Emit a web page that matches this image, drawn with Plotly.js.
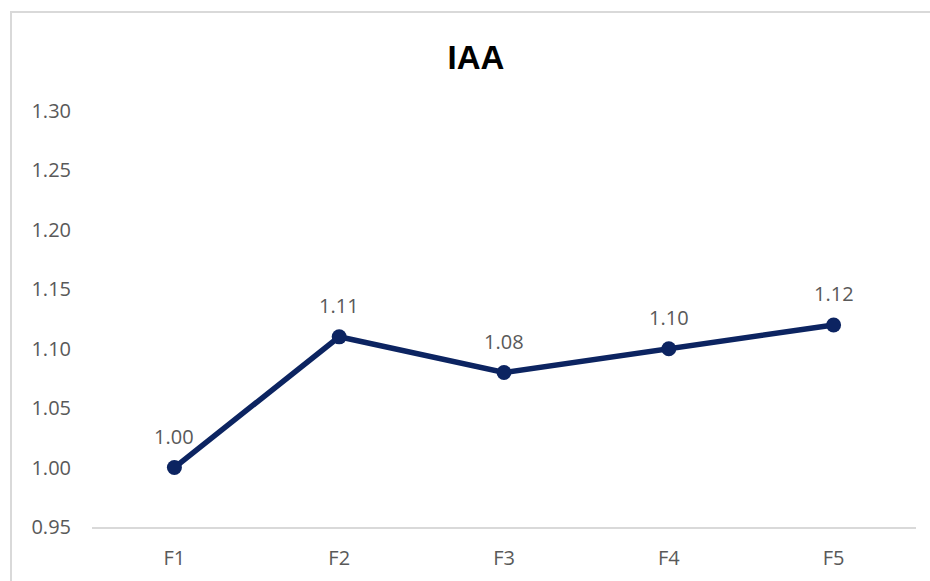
<!DOCTYPE html>
<html><head><meta charset="utf-8">
<script src="https://cdn.plot.ly/plotly-3.0.1.min.js"></script>
<style>body{margin:0;background:#fff}#chart{width:930px;height:581px}</style>
</head><body><div id="chart"></div>
<script>
const categories = ["F1","F2","F3","F4","F5"];
const values = [1.00, 1.11, 1.08, 1.10, 1.12];
const labels = ["1.00","1.11","1.08","1.10","1.12"];
const tickVals = [0.95,1.00,1.05,1.10,1.15,1.20,1.25,1.30];
const tickText = ["0.95","1.00","1.05","1.10","1.15","1.20","1.25","1.30"];

const L=92, R=14, T=111, B=54, W=930, H=581;
const pw=W-L-R, ph=H-T-B;
const px=v=>(v-L)/pw, py=v=>(H-B-v)/ph;
const FONT = 'Open Sans, sans-serif';
const GRAY = '#595959';

const trace = {
  x: categories, y: values, type: 'scatter', mode: 'lines+markers',
  line: {color: '#0c2461', width: 5.5},
  marker: {color: '#0c2461', size: 15},
  cliponaxis: false, hoverinfo: 'none'
};
const annotations = categories.map((c, i) => ({
  x: c, y: values[i], xref: 'x', yref: 'y', text: labels[i], showarrow: false,
  yanchor: 'middle', xanchor: 'center', yshift: 31,
  font: {family: FONT, size: 20, color: GRAY}
}));
const layout = {
  width: W, height: H, margin: {l: L, r: R, t: T, b: B},
  paper_bgcolor: '#fff', plot_bgcolor: '#fff', showlegend: false,
  title: {text: '<b>IAA</b>', x: 476/W, xref: 'container', y: 1-57/H, yref: 'container', yanchor: 'middle',
    font: {family: 'Liberation Sans, Arial, sans-serif', size: 33, color: '#000'}},
  xaxis: {type: 'category', range: [-0.5, 4.5], showgrid: false, zeroline: false,
    showline: true, linecolor: '#d9d9d9', linewidth: 2, ticks: '', ticklabelstandoff: 12,
    tickfont: {family: FONT, size: 20, color: GRAY}},
  yaxis: {range: [0.95, 1.30], tickvals: tickVals, ticktext: tickText, showgrid: false,
    zeroline: false, showline: false, ticks: '', ticklabelstandoff: 20,
    tickfont: {family: FONT, size: 20, color: GRAY}},
  annotations: annotations,
  shapes: [{type: 'rect', xref: 'paper', yref: 'paper', x0: px(11), x1: px(940), y0: py(600), y1: py(12),
    line: {color: '#d9d9d9', width: 2}, fillcolor: 'rgba(0,0,0,0)', layer: 'below'}]
};
Plotly.newPlot('chart', [trace], layout, {staticPlot: true});
</script></body></html>
